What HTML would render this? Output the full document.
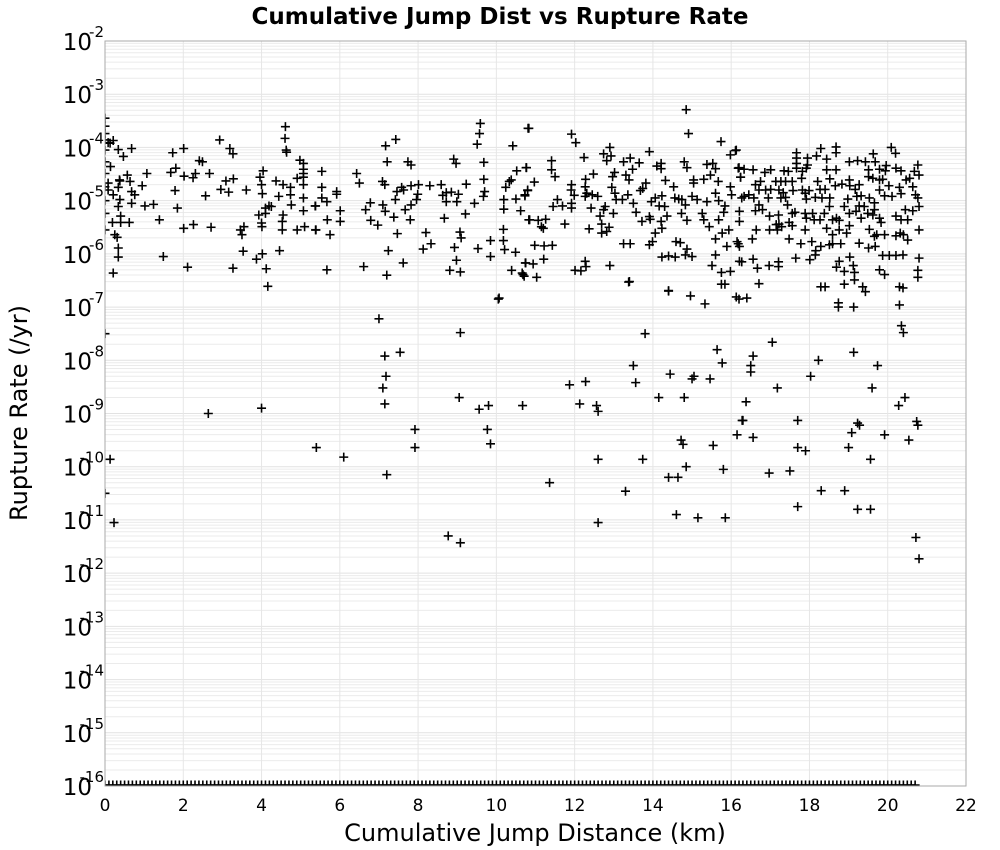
<!DOCTYPE html>
<html><head><meta charset="utf-8"><style>
html,body{margin:0;padding:0;background:#fff;}
svg{display:block;font-family:"Liberation Sans","DejaVu Sans",sans-serif;}
</style></head><body>
<svg id="chart" width="1000" height="850" viewBox="0 0 1000 850" xmlns="http://www.w3.org/2000/svg">
<rect x="0" y="0" width="1000" height="850" fill="#fff"/>
<text x="500" y="24" text-anchor="middle" font-size="23" font-weight="bold" font-family="DejaVu Sans, sans-serif">Cumulative Jump Dist vs Rupture Rate</text>
<g id="grid"></g>
<g id="yaxis"></g>
<g id="xaxis"></g>
<clipPath id="plotclip"><rect x="105" y="41" width="861" height="745"/></clipPath>
<g id="marks" clip-path="url(#plotclip)"></g>
<rect x="105" y="41" width="861" height="745" fill="none" stroke="#aaa" stroke-width="1"/>
<text x="535" y="841" text-anchor="middle" font-size="24" font-family="DejaVu Sans, sans-serif">Cumulative Jump Distance (km)</text>
<text transform="translate(27,413) rotate(-90)" text-anchor="middle" font-size="24" font-family="DejaVu Sans, sans-serif">Rupture Rate (/yr)</text>
</svg>
<script>
const xTicks = [0,2,4,6,8,10,12,14,16,18,20,22];
const yTickExps = [-2,-3,-4,-5,-6,-7,-8,-9,-10,-11,-12,-13,-14,-15,-16];
// [distance km, log10(rate /yr)]
const scatterPoints = [
[0,-3.45],[0,-3.6],[0,-3.74],[0,-3.86],[0,-4.05],[0,-4.27],[0,-4.49],[0,-4.74],[0,-5.0],[0,-5.24],[0,-5.55],[0,-7.5],[0,-10.5],
[4.61,-3.61],[4.60,-3.83],[4.63,-4.05],[4.64,-4.09],[2.93,-3.86],[3.19,-4.02],[3.27,-4.12],[2.01,-4.02],[1.73,-4.10],[0.68,-4.02],[0.34,-4.04],[0.47,-4.17],[0.21,-3.87],[0.13,-3.92],[0.08,-3.91],[0.14,-4.36],
[4.98,-4.24],[5.07,-4.30],[5.07,-4.41],[5.07,-4.49],[5.07,-4.56],[4.91,-4.58],[5.07,-4.70],[5.07,-4.95],[5.07,-5.19],[5.10,-5.49],[4.91,-5.55],[5.38,-5.10],[5.38,-5.55],
[4.74,-4.75],[4.74,-4.89],[4.76,-5.08],[4.55,-4.70],[4.44,-4.92],[4.55,-5.27],[4.53,-5.39],[4.53,-5.55],[4.46,-5.94],[4.04,-4.44],[3.96,-4.56],[4.00,-4.70],[4.02,-4.87],[3.93,-5.27],[4.10,-5.14],[4.19,-5.10],[4.25,-5.11],[4.10,-5.24],[4.00,-5.42],[4.01,-5.49],[4.02,-6.00],[3.87,-6.10],[4.12,-6.28],[4.16,-6.61],[4.37,-4.63],
[3.55,-5.49],[3.46,-5.55],[3.50,-5.64],[3.53,-5.95],[3.28,-4.59],[3.09,-4.63],[3.61,-4.80],[2.96,-4.79],[3.16,-4.84],[3.27,-6.27],[2.71,-5.50],[2.26,-5.45],[2.01,-5.52],[2.11,-6.25],[1.49,-6.05],[1.39,-5.36],[1.85,-5.14],[1.79,-4.81],[1.68,-4.47],[1.81,-4.39],[2.02,-4.54],[2.25,-4.57],[2.31,-4.49],[2.67,-4.49],[2.57,-4.91],[2.41,-4.25],[2.49,-4.27],
[1.07,-4.49],[0.95,-4.72],[0.57,-4.52],[0.64,-4.64],[0.68,-4.83],[0.76,-4.89],[0.68,-5.05],[1.02,-5.10],[1.24,-5.07],[0.37,-4.61],[0.34,-4.75],[0.38,-4.98],[0.34,-5.11],[0.40,-5.29],[0.40,-5.41],[0.19,-5.41],[0.62,-5.41],[0.21,-4.89],[0.08,-4.80],[0.08,-4.67],[0.25,-5.64],[0.31,-5.69],[0.34,-5.89],[0.34,-6.06],[0.21,-6.36],[0.38,-4.63],
[9.59,-3.55],[9.57,-3.74],[9.51,-3.94],[9.68,-4.28],[9.68,-4.60],[9.70,-4.83],[9.67,-4.92],[9.23,-4.69],[9.44,-5.05],[9.21,-5.25],[8.67,-5.33],[9.03,-4.88],[8.99,-5.02],[8.85,-4.84],[8.72,-4.85],[8.63,-4.90],[8.72,-5.02],[8.59,-4.70],[8.91,-4.22],[8.97,-4.30],[8.30,-4.72],[8.01,-4.70],[7.99,-4.88],[7.96,-4.98],[7.82,-4.72],[7.82,-5.08],[7.80,-5.36],[7.67,-5.17],[7.63,-4.80],[7.58,-4.75],[7.46,-4.83],[7.42,-4.98],[7.38,-5.31],[7.47,-5.62],[7.24,-5.94],[7.62,-6.17],[7.20,-6.40],[6.61,-6.24],[6.97,-5.46],[6.79,-5.37],[6.66,-5.17],[6.78,-5.04],[7.10,-5.08],[7.16,-5.20],[7.09,-4.64],[7.15,-4.70],[7.21,-4.27],[7.17,-3.97],[7.43,-3.85],[7.74,-4.27],[7.82,-4.33],[6.43,-4.49],[6.50,-4.67],
[5.54,-4.45],[5.54,-4.75],[5.54,-4.95],[5.67,-5.02],[5.92,-4.83],[5.92,-4.88],[6.01,-5.19],[6.01,-5.39],[5.68,-5.36],[5.37,-5.10],[5.39,-5.55],[5.75,-5.64],[5.67,-6.30],[8.20,-5.60],[8.33,-5.81],[8.13,-5.91],[9.07,-5.59],[9.10,-5.70],[8.93,-5.88],[8.98,-6.12],[8.81,-6.31],[9.08,-6.34],[9.53,-5.90],[9.85,-5.75],[9.85,-6.05],
[10.18,-5.54],[10.18,-5.75],[10.21,-5.92],[10.49,-5.97],[10.75,-6.17],[10.39,-6.31],[10.66,-6.36],[10.71,-6.42],[10.07,-6.83],[10.19,-4.98],[10.19,-5.16],[10.24,-4.75],[10.38,-4.61],[10.33,-4.64],[10.52,-4.44],[10.76,-4.38],[10.42,-3.97],[10.81,-3.64],[10.50,-4.97],[10.73,-4.91],[10.80,-4.80],[10.62,-5.19],[10.83,-5.36],
[14.85,-3.29],[14.91,-3.74],[15.74,-3.89],[16.11,-4.06],[15.98,-4.14],[10.83,-3.64],[11.92,-3.75],[12.03,-3.91],[10.77,-4.38],[10.97,-4.65],[10.80,-4.81],[10.73,-4.89],[11.41,-4.25],[11.41,-4.42],[11.50,-4.55],[12.24,-4.19],[12.90,-4.00],[12.74,-4.12],[12.93,-4.16],[12.82,-4.25],[13.25,-4.27],[13.42,-4.20],[13.65,-4.29],[13.48,-4.41],[13.91,-4.08],[14.10,-4.35],[14.21,-4.30],[14.21,-4.40],[14.80,-4.27],[14.87,-4.38],[15.38,-4.32],[15.53,-4.30],[15.60,-4.40],[15.47,-4.52],[15.30,-4.60],[15.04,-4.61],[15.04,-4.67],[15.67,-4.64],[14.32,-4.62],[14.53,-4.74],[13.82,-4.67],[13.74,-4.77],[13.68,-4.81],[13.39,-4.61],[13.31,-4.52],[13.02,-4.47],[12.97,-4.55],[12.48,-4.50],[12.28,-4.60],[12.27,-4.74],[11.92,-4.70],[11.91,-4.80],[11.99,-4.90],[12.31,-4.86],[12.27,-4.92],[12.45,-4.89],[12.59,-4.92],[12.95,-4.75],[13.03,-4.86],[13.22,-4.98],[13.36,-4.89],[13.06,-4.98],[12.78,-5.11],[12.74,-5.17],[12.99,-5.24],[12.65,-5.29],[12.69,-5.44],[12.88,-5.50],[12.82,-5.58],[12.69,-5.61],[12.42,-5.14],[12.37,-5.53],[11.92,-5.05],[11.92,-5.14],[11.69,-5.10],[11.56,-4.98],[11.45,-5.11],[11.75,-5.44],[11.26,-5.35],[11.07,-5.37],[10.85,-5.36],[11.15,-5.49],[11.20,-5.52],[10.98,-5.84],[11.22,-5.85],[11.43,-5.84],[11.21,-6.10],[10.74,-6.17],[10.94,-6.19],[10.68,-6.39],[11.03,-6.44],[12.01,-6.31],[12.16,-6.32],[12.27,-6.14],[12.29,-6.24],[12.90,-6.22],[13.38,-6.53],[13.25,-5.81],[13.42,-5.81],[13.91,-5.83],[13.99,-5.77],[14.06,-5.61],[14.23,-5.52],[13.93,-5.35],[13.91,-5.30],[13.72,-5.39],[13.57,-5.22],[13.50,-5.05],[13.96,-5.02],[14.06,-4.95],[14.23,-4.91],[14.16,-5.10],[14.30,-5.11],[14.36,-5.29],[14.21,-5.39],[14.56,-4.95],[14.66,-4.97],[14.74,-4.98],[14.83,-5.08],[15.00,-4.92],[15.13,-4.98],[14.73,-5.24],[14.87,-5.37],[15.26,-5.24],[15.30,-5.36],[15.44,-5.49],[15.68,-5.36],[15.81,-5.22],[15.84,-5.10],[15.68,-5.00],[15.98,-4.74],[16.01,-4.89],[16.20,-4.38],[16.24,-4.56],[15.38,-5.02],[15.60,-4.86],[15.77,-5.61],[15.94,-5.55],[15.60,-5.72],[15.89,-5.86],[16.18,-5.81],[15.60,-6.02],[15.51,-6.22],[15.75,-6.35],[15.98,-6.33],[15.75,-6.57],[15.84,-6.57],[14.40,-6.69],[14.96,-6.79],[14.59,-5.77],[14.70,-5.79],[14.87,-5.91],[14.83,-6.02],[15.00,-6.05],[14.23,-6.06],[14.40,-6.04],[14.57,-6.06],[16.21,-6.14],[16.13,-6.81],
[16.13,-4.05],[16.18,-4.39],[16.33,-4.41],[16.24,-4.56],[16.56,-4.42],[16.86,-4.47],[17.01,-4.42],[17.35,-4.44],[17.46,-4.45],[17.67,-4.10],[17.67,-4.20],[17.67,-4.30],[17.67,-4.39],[17.95,-4.20],[17.95,-4.33],[17.92,-4.39],[18.29,-4.02],[18.18,-4.16],[18.44,-4.22],[18.68,-3.99],[18.68,-4.10],[19.02,-4.27],[19.23,-4.25],[19.43,-4.27],[19.63,-4.12],[19.68,-4.27],[19.51,-4.42],[19.79,-4.41],[19.96,-4.34],[19.94,-4.44],[20.21,-4.39],[20.34,-4.44],[20.09,-4.00],[20.20,-4.11],[20.77,-4.33],[20.80,-4.52],[20.68,-4.45],[18.44,-4.42],[18.68,-4.42],[17.82,-4.45],[17.80,-4.58],[18.52,-4.59],[17.56,-4.64],[17.39,-4.64],[17.27,-4.64],[17.14,-4.64],[16.75,-4.64],[16.62,-4.70],[16.71,-4.80],[16.88,-4.80],[17.01,-4.79],[17.22,-4.80],[17.33,-4.85],[17.58,-4.81],[17.82,-4.80],[17.99,-4.81],[18.21,-4.64],[18.27,-4.79],[18.40,-4.79],[18.66,-4.72],[18.83,-4.69],[19.02,-4.61],[19.03,-4.72],[19.27,-4.70],[19.17,-4.79],[19.51,-4.55],[19.62,-4.58],[19.79,-4.61],[19.87,-4.60],[20.03,-4.72],[19.79,-4.80],[19.92,-4.91],[20.11,-4.92],[20.30,-4.75],[20.34,-4.87],[20.47,-4.61],[20.56,-4.58],[20.64,-4.74],[20.71,-4.89],[20.77,-4.95],
[16.33,-4.92],[16.27,-4.95],[16.45,-4.89],[16.58,-4.95],[16.95,-4.95],[17.27,-4.95],[17.39,-4.94],[17.89,-4.86],[17.92,-4.97],[18.15,-4.94],[18.32,-4.95],[18.52,-4.95],[18.98,-4.97],[19.21,-4.92],[19.32,-4.91],[19.53,-4.95],[19.66,-5.04],[16.71,-5.08],[16.62,-5.19],[16.80,-5.17],[16.98,-5.29],[17.21,-5.27],[17.44,-5.08],[17.56,-5.24],[17.63,-5.22],[17.22,-5.44],[17.15,-5.45],[17.29,-5.49],[17.48,-5.41],[17.56,-5.47],[17.89,-5.24],[18.08,-5.24],[18.12,-5.36],[18.27,-5.36],[17.92,-5.33],[18.38,-5.24],[18.51,-5.11],[18.59,-5.36],[18.69,-5.33],[18.76,-5.37],[18.89,-5.11],[19.02,-5.24],[19.19,-5.20],[19.27,-5.10],[19.40,-5.11],[19.49,-5.24],[19.62,-5.27],[19.66,-5.17],[19.32,-5.33],[19.79,-5.33],[19.83,-5.41],[20.21,-5.29],[20.34,-5.36],[20.45,-5.17],[20.64,-5.19],[20.51,-5.36],[20.80,-5.11],[16.21,-5.20],[16.21,-5.39],[16.64,-5.55],[16.98,-5.55],[17.18,-5.55],[17.48,-5.72],[17.89,-5.55],[18.06,-5.77],[17.78,-5.81],[18.29,-5.86],[18.16,-5.94],[18.51,-5.83],[18.59,-5.81],[18.80,-5.81],[18.44,-5.52],[18.59,-5.64],[18.76,-5.55],[18.95,-5.61],[19.02,-5.47],[19.27,-5.80],[19.51,-5.89],[19.68,-5.86],[19.53,-5.54],[19.66,-5.67],[19.72,-5.64],[19.92,-5.64],[20.21,-5.66],[20.32,-5.61],[20.40,-5.64],[20.51,-5.74],[20.80,-5.55],
[16.15,-5.77],[16.21,-5.86],[16.54,-5.72],[16.27,-6.15],[16.56,-6.10],[16.67,-6.27],[16.97,-6.22],[17.21,-6.15],[17.21,-6.24],[17.65,-6.08],[18.01,-6.11],[18.15,-6.02],[18.76,-6.14],[18.69,-6.25],[18.89,-6.33],[19.03,-6.06],[19.12,-6.22],[19.15,-6.35],[19.15,-6.49],[19.79,-6.30],[19.92,-6.39],[19.87,-6.03],[20.04,-6.03],[20.21,-6.03],[20.39,-6.02],[20.80,-6.08],[20.77,-6.31],[20.77,-6.44],[16.71,-6.56],[18.29,-6.62],[18.89,-6.57],[19.43,-6.71],[20.39,-6.64],[18.40,-6.62],[19.13,-7.0],[19.36,-6.62],[20.30,-6.62],[15.33,-6.94],[16.2,-6.85],[16.4,-6.83],[18.74,-6.92],[20.3,-6.96],
[0.13,-9.86],[0.23,-11.05],[2.64,-9.0],[4.0,-8.9],[5.4,-9.64],[6.1,-9.82],[7.0,-7.22],[7.15,-7.92],[7.18,-8.3],[7.1,-8.52],[7.15,-8.82],[7.2,-10.15],[7.54,-7.85],[7.92,-9.3],[7.92,-9.64],[8.77,-11.3],[9.08,-11.43],[9.08,-7.48],[9.05,-8.7],[9.56,-8.92],[9.8,-8.85],[9.77,-9.3],[9.85,-9.57],[10.05,-6.85],[10.67,-8.85],[11.36,-10.3],[11.87,-8.46],[12.13,-8.82],[12.28,-8.4],[12.56,-8.85],[12.6,-8.96],[12.6,-9.86],[12.6,-11.05],[13.3,-10.46],[13.4,-6.52],[13.5,-8.1],[13.56,-8.42],[13.8,-7.5],[13.74,-9.86],[14.15,-8.7],[14.4,-6.7],[14.44,-8.26],[14.4,-10.2],[14.6,-10.9],[14.64,-10.2],[14.72,-9.5],[14.77,-9.58],[14.8,-8.7],[14.85,-10.0],[15.05,-8.3],[15.0,-8.35],[15.15,-10.96],[15.46,-8.35],[15.54,-9.6],[15.64,-7.8],[15.77,-8.05],[15.8,-10.05],[15.85,-10.96],[16.15,-9.4],[16.28,-9.13],[16.3,-9.13],[16.38,-8.78],[16.5,-8.1],[16.5,-8.22],[16.56,-9.45],[16.56,-7.92],[17.05,-7.66],[16.97,-10.12],[17.18,-8.52],[17.5,-10.08],[17.7,-10.75],[17.7,-9.13],[17.7,-9.64],[17.9,-9.7],[18.03,-8.3],[18.23,-8.0],[18.3,-10.45],[18.9,-10.45],[19.0,-9.64],[19.08,-9.36],[19.13,-7.85],[19.23,-9.18],[19.28,-9.22],[19.23,-10.8],[19.56,-10.8],[19.56,-9.86],[19.6,-8.52],[19.74,-8.1],[19.92,-9.4],[20.28,-8.85],[20.44,-8.7],[20.54,-9.5],[20.35,-7.35],[20.4,-7.48],[20.74,-9.15],[20.77,-9.22],[20.72,-11.33],[20.8,-11.73],[18.74,-7.0]
];
// distances of ruptures with zero rate (drawn at plot floor 1e-16)
const zeroRateDist = [0,0.1,0.2,0.3,0.4,0.5,0.6,0.7,0.8,0.9,1,1.1,1.2,1.3,1.4,1.5,1.6,1.7,1.8,1.9,2,2.1,2.2,2.3,2.4,2.5,2.6,2.7,2.8,2.9,3,3.1,3.2,3.3,3.4,3.5,3.6,3.7,3.8,3.9,4,4.1,4.2,4.3,4.4,4.5,4.6,4.7,4.8,4.9,5,5.1,5.2,5.3,5.4,5.5,5.6,5.7,5.8,5.9,6,6.1,6.2,6.3,6.4,6.5,6.6,6.7,6.8,6.9,7,7.1,7.2,7.3,7.4,7.5,7.6,7.7,7.8,7.9,8,8.1,8.2,8.3,8.4,8.5,8.6,8.7,8.8,8.9,9,9.1,9.2,9.3,9.4,9.5,9.6,9.7,9.8,9.9,10,10.1,10.2,10.3,10.4,10.5,10.6,10.7,10.8,10.9,11,11.1,11.2,11.3,11.4,11.5,11.6,11.7,11.8,11.9,12,12.1,12.2,12.3,12.4,12.5,12.6,12.7,12.8,12.9,13,13.1,13.2,13.3,13.4,13.5,13.6,13.7,13.8,13.9,14,14.1,14.2,14.3,14.4,14.5,14.6,14.7,14.8,14.9,15,15.1,15.2,15.3,15.4,15.5,15.6,15.7,15.8,15.9,16,16.1,16.2,16.3,16.4,16.5,16.6,16.7,16.8,16.9,17,17.1,17.2,17.3,17.4,17.5,17.6,17.7,17.8,17.9,18,18.1,18.2,18.3,18.4,18.5,18.6,18.7,18.8,18.9,19,19.1,19.2,19.3,19.4,19.5,19.6,19.7,19.8,19.9,20,20.1,20.2,20.3,20.4,20.5,20.6,20.7];

const NS = "http://www.w3.org/2000/svg";
const X0 = 105, X1 = 966, Y0 = 41, Y1 = 786;
const xMin = 0, xMax = 22, eMax = -2, eMin = -16;
function xScale(v){ return X0 + (v - xMin) / (xMax - xMin) * (X1 - X0); }
function yScale(e){ return Y0 + (eMax - e) / (eMax - eMin) * (Y1 - Y0); }
function mk(tag, attrs){ const el = document.createElementNS(NS, tag); for (const k in attrs) el.setAttribute(k, attrs[k]); return el; }

const grid = document.getElementById('grid');
for (let e = eMax; e > eMin; e--) {
  for (let m = 2; m <= 9; m++) {
    const y = yScale(e - 1 + Math.log10(m));
    const ln = mk('line', {x1: X0, x2: X1, y1: y, y2: y, stroke: '#ebebeb', 'stroke-width': 1});
    
    
    grid.appendChild(ln);
  }
}
yTickExps.forEach(e => {
  const y = yScale(e);
  const ln = mk('line', {x1: X0, x2: X1, y1: y, y2: y, stroke: '#e2e2e2', 'stroke-width': 1});
  
  
  grid.appendChild(ln);
});
xTicks.forEach(v => {
  const x = xScale(v);
  const ln = mk('line', {x1: x, x2: x, y1: Y0, y2: Y1, stroke: '#e6e6e6', 'stroke-width': 1});
  
  
  grid.appendChild(ln);
});

const yaxis = document.getElementById('yaxis');
yTickExps.forEach(e => {
  const y = yScale(e);
  const base = mk('text', {x: 92, y: y + 9, 'text-anchor': 'end', 'font-size': 23, 'font-family': 'DejaVu Sans, sans-serif'});
  base.textContent = '10';
  
  
  yaxis.appendChild(base);
  const sup = mk('text', {x: 104, y: y - 4, 'text-anchor': 'end', 'font-size': 15, 'font-family': 'DejaVu Sans, sans-serif'});
  sup.textContent = String(e).replace('-', '-');
  
  
  yaxis.appendChild(sup);
});

const xaxis = document.getElementById('xaxis');
xTicks.forEach(v => {
  const t = mk('text', {x: xScale(v), y: 811, 'text-anchor': 'middle', 'font-size': 17, 'font-family': 'DejaVu Sans, sans-serif'});
  t.textContent = String(v);
  
  
  xaxis.appendChild(t);
});

const marks = document.getElementById('marks');
function plus(cx, cy){
  const p = mk('path', {d: `M${cx-4.5},${cy}H${cx+4.5}M${cx},${cy-4.5}V${cy+4.5}`, stroke: '#000', 'stroke-width': 1.6, fill: 'none'});
  return p;
}
scatterPoints.forEach(pt => {
  const p = plus(xScale(pt[0]), yScale(pt[1]));
  
  
  marks.appendChild(p);
});
zeroRateDist.forEach(d => {
  const p = plus(xScale(d), yScale(eMin) - 1);
  
  
  marks.appendChild(p);
});
</script>
</body></html>
